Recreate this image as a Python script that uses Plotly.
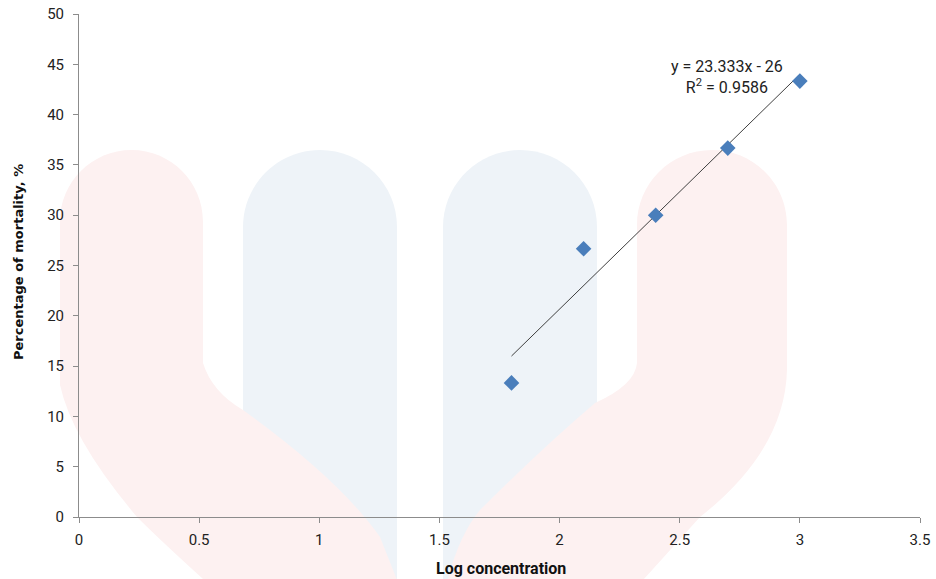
import numpy as np
import plotly.graph_objects as go

# Data
log_conc = [1.8, 2.1, 2.4, 2.7, 3.0]
mortality = [13.33, 26.67, 30.0, 36.67, 43.33]
x_ticks = [0, 0.5, 1, 1.5, 2, 2.5, 3, 3.5]
x_tick_labels = ["0", "0.5", "1", "1.5", "2", "2.5", "3", "3.5"]
y_ticks = [0, 5, 10, 15, 20, 25, 30, 35, 40, 45, 50]

slope, intercept = np.polyfit(log_conc, mortality, 1)
r2 = np.corrcoef(log_conc, mortality)[0, 1] ** 2
trend_x = [min(log_conc), max(log_conc)]
trend_y = [slope * v + intercept for v in trend_x]

W, H = 936, 579
# plot area in page pixels: x 79..920, y 14..517
ML, MR, MT, MB = 79, 16, 14, 62
PW, PH = W - ML - MR, H - MT - MB


def px(x, y):
    # page pixel -> paper coords
    return (x - ML) / PW, (H - MB - y) / PH


def path(cmds):
    out = []
    for c in cmds:
        op, pts = c[0], c[1:]
        out.append(op + " ".join("%.5f,%.5f" % px(*p) for p in pts))
    return " ".join(out) + " Z"


def dome(x0, x1, ytop):
    r = (x1 - x0) / 2.0
    cx = x0 + r
    yb = ytop + r
    k = 0.5523 * r
    return yb, [
        ("C", (x0, yb - k), (cx - k, ytop), (cx, ytop)),
        ("C", (cx + k, ytop), (x1, yb - k), (x1, yb)),
    ]


RED = "#fdf1f1"
BLUE = "#eef3f8"
shapes = []

yb, d = dome(243, 397, 150)
shapes.append(dict(type="path", path=path([("M", (243, yb))] + d + [("L", (397, 600)), ("L", (243, 600))]),
                   xref="paper", yref="paper", fillcolor=BLUE, line=dict(width=0), layer="below"))
yb, d = dome(443, 597, 150)
shapes.append(dict(type="path", path=path([("M", (443, yb))] + d + [("L", (597, 600)), ("L", (443, 600))]),
                   xref="paper", yref="paper", fillcolor=BLUE, line=dict(width=0), layer="below"))
yb, d = dome(60, 203, 150)
shapes.append(dict(type="path", path=path(
    [("M", (60, yb))] + d + [
        ("L", (203, 363)), ("Q", (212, 392), (243, 410)), ("Q", (340, 480), (380, 537)), ("L", (405, 600)),
        ("L", (222, 600)), ("L", (203, 579)), ("Q", (160, 540), (137, 517)), ("Q", (72, 440), (60, 385))]),
    xref="paper", yref="paper", fillcolor=RED, line=dict(width=0), layer="below"))
yb, d = dome(637, 787, 150)
shapes.append(dict(type="path", path=path(
    [("M", (637, yb))] + d + [
        ("L", (787, 370)), ("Q", (785, 450), (700, 517)), ("L", (625, 600)),
        ("L", (443, 600)), ("Q", (455, 540), (480, 510)), ("Q", (540, 450), (595, 403)), ("Q", (635, 385), (637, 363))]),
    xref="paper", yref="paper", fillcolor=RED, line=dict(width=0), layer="below"))

fig = go.Figure()
fig.add_trace(go.Scatter(x=trend_x, y=trend_y, mode="lines",
                         line=dict(color="#3f3f3f", width=1), showlegend=False, hoverinfo="skip"))
fig.add_trace(go.Scatter(x=log_conc, y=mortality, mode="markers",
                         marker=dict(symbol="diamond", size=12, color="#4a7ebb"),
                         showlegend=False))

eq_text = "y = %.3fx - %d<br>R<sup>2</sup> = %.4f" % (slope, round(-intercept), r2)
ax, ay = px(727, 77)
fig.add_annotation(x=ax, y=ay, xref="paper", yref="paper", xanchor="center", yanchor="middle",
                   text=eq_text, showarrow=False, align="center",
                   font=dict(family="Roboto, Liberation Sans", size=16, color="#222222"))

# axis titles as annotations for precise placement
tx, ty = px(501, 568)
fig.add_annotation(x=tx, y=ty, xref="paper", yref="paper", xanchor="center", yanchor="middle",
                   text="<b>Log concentration</b>", showarrow=False,
                   font=dict(family="Roboto, Liberation Sans", size=16, color="#111111"))
tx, ty = px(18, 262)
fig.add_annotation(x=tx, y=ty, xref="paper", yref="paper", xanchor="center", yanchor="middle",
                   text="<b>Percentage of mortality, %</b>", showarrow=False, textangle=-90,
                   font=dict(family="DejaVu Sans", size=13, color="#111111"))

axis_common = dict(showgrid=False, zeroline=False, showline=True, linecolor="#8c8c8c", linewidth=1,
                   ticks="outside", ticklen=5, tickcolor="#8c8c8c", automargin=False,
                   tickfont=dict(family="Roboto, Liberation Sans", size=15, color="#222222"))

fig.update_layout(
    width=W, height=H,
    margin=dict(l=ML, r=MR, t=MT, b=MB),
    paper_bgcolor="white", plot_bgcolor="rgba(0,0,0,0)",
    shapes=shapes,
    xaxis=dict(range=[0, 3.5], tickvals=x_ticks, ticktext=x_tick_labels, ticklabelstandoff=4, **axis_common),
    yaxis=dict(range=[0, 50], tickvals=y_ticks, ticklabelstandoff=6, **axis_common),
)

fig.write_html("out.html", config={"displayModeBar": False},
               post_script="document.body.style.margin='0';")
